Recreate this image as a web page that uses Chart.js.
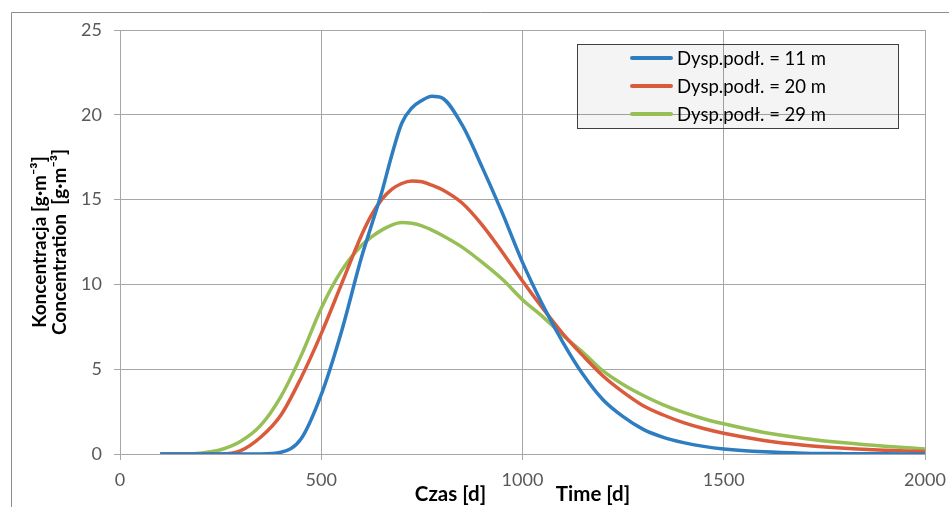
<!DOCTYPE html>
<html>
<head>
<meta charset="utf-8">
<script src="https://cdn.jsdelivr.net/npm/chart.js@4"></script>
<style>
  body { margin: 0; background: #fff; }
</style>
</head>
<body>
<canvas id="myChart" width="949" height="507"></canvas>
<script>
// time axis [d]
let times = [100,150,200,250,300,350,400,450,500,550,600,625,650,675,700,725,750,775,800,
  850,900,950,1000,1050,1100,1150,1200,1250,1300,1350,1400,1450,1500,1600,1700,1800,1900,2000];

// concentration [g/m3] per dispersion
let disp11 = [0,0,0,0,0,0,0.1,0.9,3.5,7.2,11.6,13.5,15.4,17.6,19.5,20.4,20.85,21.1,21.0,
  19.4,16.9,14.2,11.3,8.8,6.6,4.7,3.2,2.2,1.45,0.98,0.67,0.45,0.3,0.13,0.05,0.02,0.01,0];
let disp20 = [0,0,0,0,0.2,1.0,2.3,4.5,7.1,10.0,12.9,14.1,15.0,15.6,15.95,16.1,16.05,15.85,15.6,
  14.8,13.5,11.9,10.2,8.6,7.1,5.8,4.6,3.65,2.85,2.3,1.85,1.5,1.22,0.8,0.52,0.34,0.22,0.14];
let disp29 = [0,0,0.05,0.25,0.75,1.7,3.4,5.8,8.6,10.8,12.3,12.8,13.2,13.5,13.65,13.6,13.45,13.2,12.9,
  12.2,11.3,10.3,9.1,8.1,7.0,6.0,4.9,4.1,3.45,2.9,2.45,2.08,1.78,1.27,0.92,0.66,0.46,0.3];

let seriesLabels = ["Dysp.podł. = 11 m", "Dysp.podł. = 20 m", "Dysp.podł. = 29 m"];
let seriesColors = ["#2E7DC1", "#DA5A3C", "#96BF55"];
let seriesValues = [disp11, disp20, disp29];

let fontName = "Lato, 'Open Sans', sans-serif";

function toPoints(vals) {
  return vals.map((v, i) => ({ x: times[i], y: v }));
}

// legend box drawn inside the plot, plus the outer frame
const boxLegend = {
  id: "boxLegend",
  beforeDraw(chart) {
    const ctx = chart.ctx;
    ctx.save();
    ctx.fillStyle = "#fff";
    ctx.fillRect(0, 0, chart.width, chart.height);
    ctx.strokeStyle = "#8C8C8C";
    ctx.lineWidth = 1;
    ctx.beginPath();
    ctx.moveTo(11.5, chart.height);
    ctx.lineTo(11.5, 12.5);
    ctx.lineTo(chart.width, 12.5);
    ctx.stroke();
    ctx.restore();
  },
  afterDatasetsDraw(chart) {
    const ctx = chart.ctx;
    const x0 = 577, y0 = 44, w = 321, h = 84;
    ctx.save();
    ctx.fillStyle = "rgba(0,0,0,0.045)";
    ctx.fillRect(x0, y0, w, h);
    ctx.strokeStyle = "#3F3F3F";
    ctx.lineWidth = 1;
    ctx.strokeRect(x0 + 0.5, y0 + 0.5, w, h);
    ctx.font = "18.5px " + fontName;
    ctx.textBaseline = "middle";
    ctx.fillStyle = "#000";
    chart.data.datasets.forEach((ds, i) => {
      const y = 58 + i * 28;
      ctx.strokeStyle = ds.borderColor;
      ctx.lineWidth = 4;
      ctx.lineCap = "round";
      ctx.beginPath();
      ctx.moveTo(632, y);
      ctx.lineTo(671, y);
      ctx.stroke();
      ctx.fillText(ds.label, 677, y + 1);
    });
    ctx.restore();
  }
};

new Chart("myChart", {
  type: "line",
  data: {
    datasets: seriesValues.map((vals, i) => ({
      label: seriesLabels[i],
      data: toPoints(vals),
      borderColor: seriesColors[i],
      backgroundColor: seriesColors[i],
      borderWidth: 3.5,
      pointRadius: 0,
      fill: false,
      cubicInterpolationMode: "monotone"
    }))
  },
  options: {
    responsive: false,
    animation: false,
    layout: { padding: { top: 30, right: 24, left: 0, bottom: 0 } },
    plugins: {
      legend: { display: false },
      tooltip: { enabled: false }
    },
    scales: {
      x: {
        type: "linear",
        min: 0,
        max: 2000,
        afterFit(scale) {
          scale.height = 53;
          scale.paddingRight = 0;
        },
        ticks: {
          stepSize: 500,
          padding: 9,
          color: "#595959",
          font: { family: fontName, size: 18 },
          maxRotation: 0,
          callback: (v) => String(v)
        },
        grid: { color: "#A6A6A6", tickLength: 6, lineWidth: 1 },
        border: { color: "#A6A6A6" },
        title: {
          display: true,
          text: "Czas [d]              Time [d]",
          color: "#000",
          font: { family: fontName, size: 20.5, weight: "bold" },
          padding: { top: 0, bottom: 0 }
        }
      },
      y: {
        min: 0,
        max: 25,
        afterFit(scale) { scale.width = 120; },
        ticks: {
          stepSize: 5,
          padding: 12,
          color: "#595959",
          font: { family: fontName, size: 18 }
        },
        grid: { color: "#A6A6A6", tickLength: 6, lineWidth: 1 },
        border: { color: "#A6A6A6" },
        title: {
          display: true,
          text: ["Koncentracja [g·m⁻³]", "Concentration  [g·m⁻³]"],
          color: "#000",
          font: { family: fontName, size: 19, weight: "bold", lineHeight: "20px" },
          padding: { top: 30, bottom: 0 }
        }
      }
    }
  },
  plugins: [boxLegend]
});
</script>
</body>
</html>
